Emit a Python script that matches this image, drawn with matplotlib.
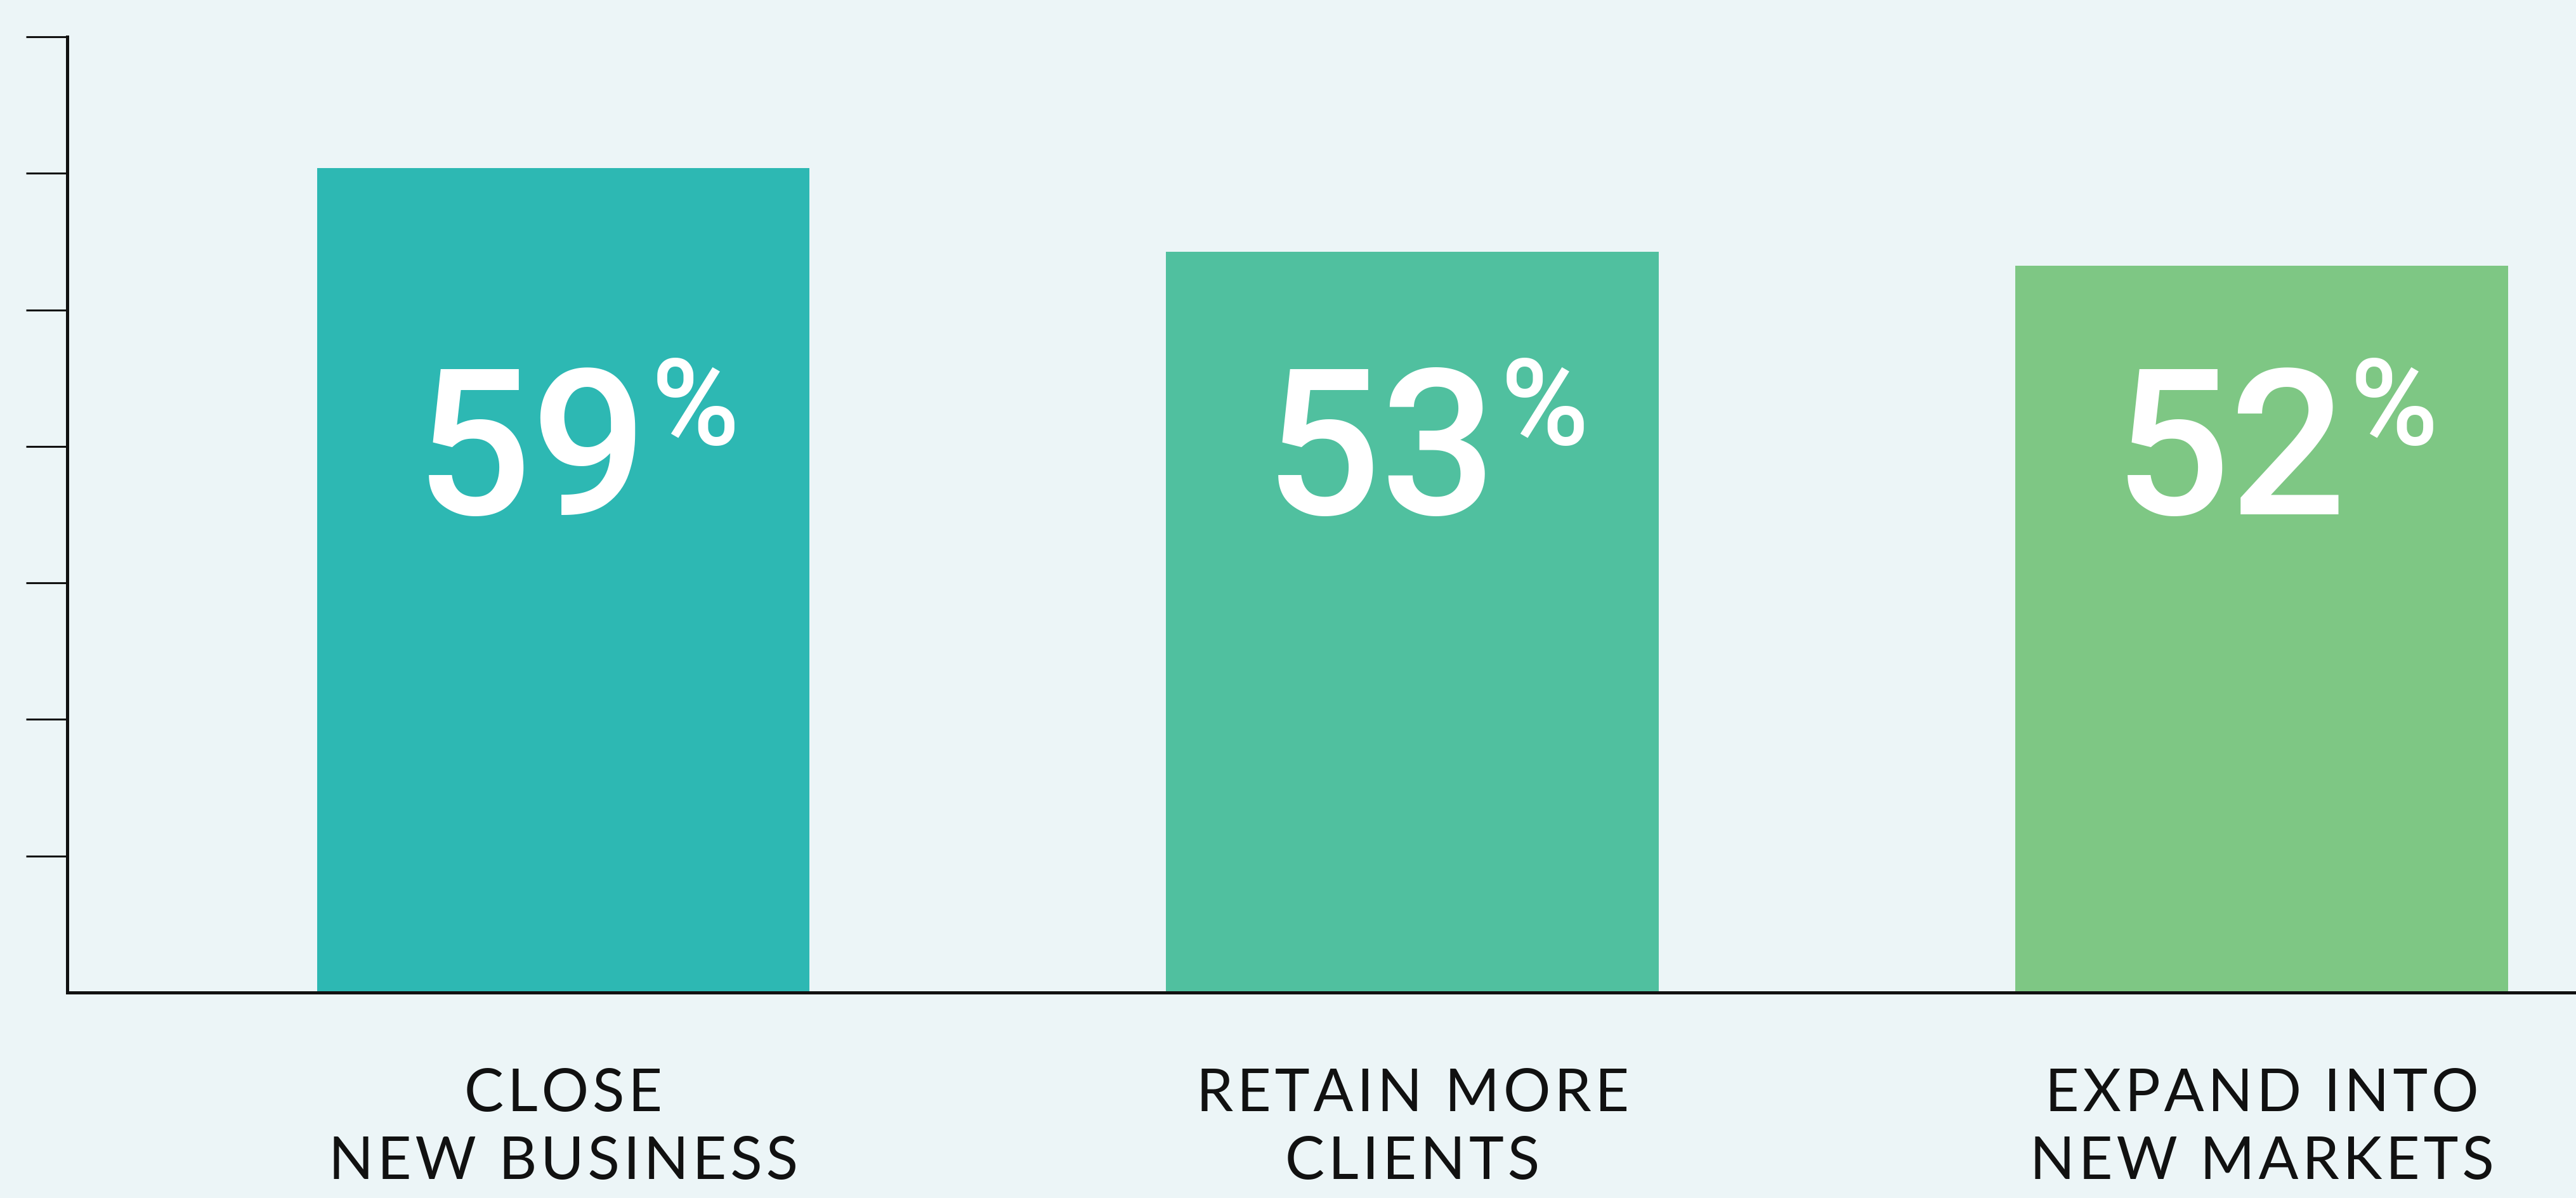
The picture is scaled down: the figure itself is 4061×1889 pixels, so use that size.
import matplotlib

matplotlib.use("Agg")
import matplotlib.pyplot as plt
import numpy as np
from matplotlib import font_manager as fm

categories = ["CLOSE\nNEW BUSINESS", "RETAIN MORE\nCLIENTS", "EXPAND INTO\nNEW MARKETS"]
values = [59, 53, 52]
value_labels = ["59", "53", "52"]
bar_colors = ["#2DB8B3", "#50C09F", "#7EC784"]

BG = "#ECF5F7"
INK = "#111111"


def upright_font(name, weight):
    # closest upright, non-condensed file of a family to the wanted weight
    cands = []
    for f in fm.fontManager.ttflist:
        base = f.fname.lower().rsplit("/", 1)[-1]
        if f.name != name or f.style != "normal" or f.stretch != "normal":
            continue
        if "condensed" in base or "italic" in base:
            continue
        w = f.weight if isinstance(f.weight, int) else 400
        cands.append((abs(w - weight), f.fname))
    if not cands:
        return fm.FontProperties(family=name, weight=weight, style="normal")
    return fm.FontProperties(fname=sorted(cands)[0][1])


num_font = upright_font("Roboto", 500)

plt.rcParams["font.family"] = ["Lato", "DejaVu Sans"]

fig = plt.figure(figsize=(40.61, 18.89), dpi=100, facecolor=BG)
ax = fig.add_axes([106 / 4061, 1 - 1565 / 1889, 1 - 106 / 4061, (1565 - 58) / 1889])
ax.set_facecolor(BG)

x = np.arange(len(categories))
ax.bar(x, values, width=0.58, color=bar_colors, zorder=2)

ymax = 68.4
ax.set_ylim(0, ymax)
ax.set_xlim(-0.584, 2.37)
ax.set_yticks(np.linspace(0, ymax, 8)[1:])
ax.set_yticklabels([])
ax.tick_params(axis="y", length=47, width=2.2, color=INK, direction="out")

# letter-spaced category labels (hair space between letters)
tracked = ["\n".join("\u200a".join(line) for line in c.split("\n")) for c in categories]
ax.set_xticks(x, tracked)
ax.tick_params(axis="x", length=0, pad=86, labelsize=67, labelcolor=INK)
for lbl in ax.get_xticklabels():
    lbl.set_linespacing(1.33)

for side in ("top", "right"):
    ax.spines[side].set_visible(False)
for side in ("left", "bottom"):
    ax.spines[side].set_linewidth(3.6)
    ax.spines[side].set_color(INK)

trans = ax.get_xaxis_transform()
for xi, lab in zip(x, value_labels):
    num = ax.annotate(lab, xy=(xi, 0.5), xycoords=trans, xytext=(96, 0),
                      textcoords="offset points", ha="right", va="baseline",
                      fontproperties=num_font, fontsize=232, color="white", zorder=3)
    ax.annotate("%", xy=(1.0, 0.95), xycoords=num, xytext=(4, 19),
                textcoords="offset points", ha="left", va="top",
                fontproperties=num_font, fontsize=136, color="white", zorder=3)

fig.savefig("out.png", dpi=100, facecolor=BG)
plt.close(fig)
